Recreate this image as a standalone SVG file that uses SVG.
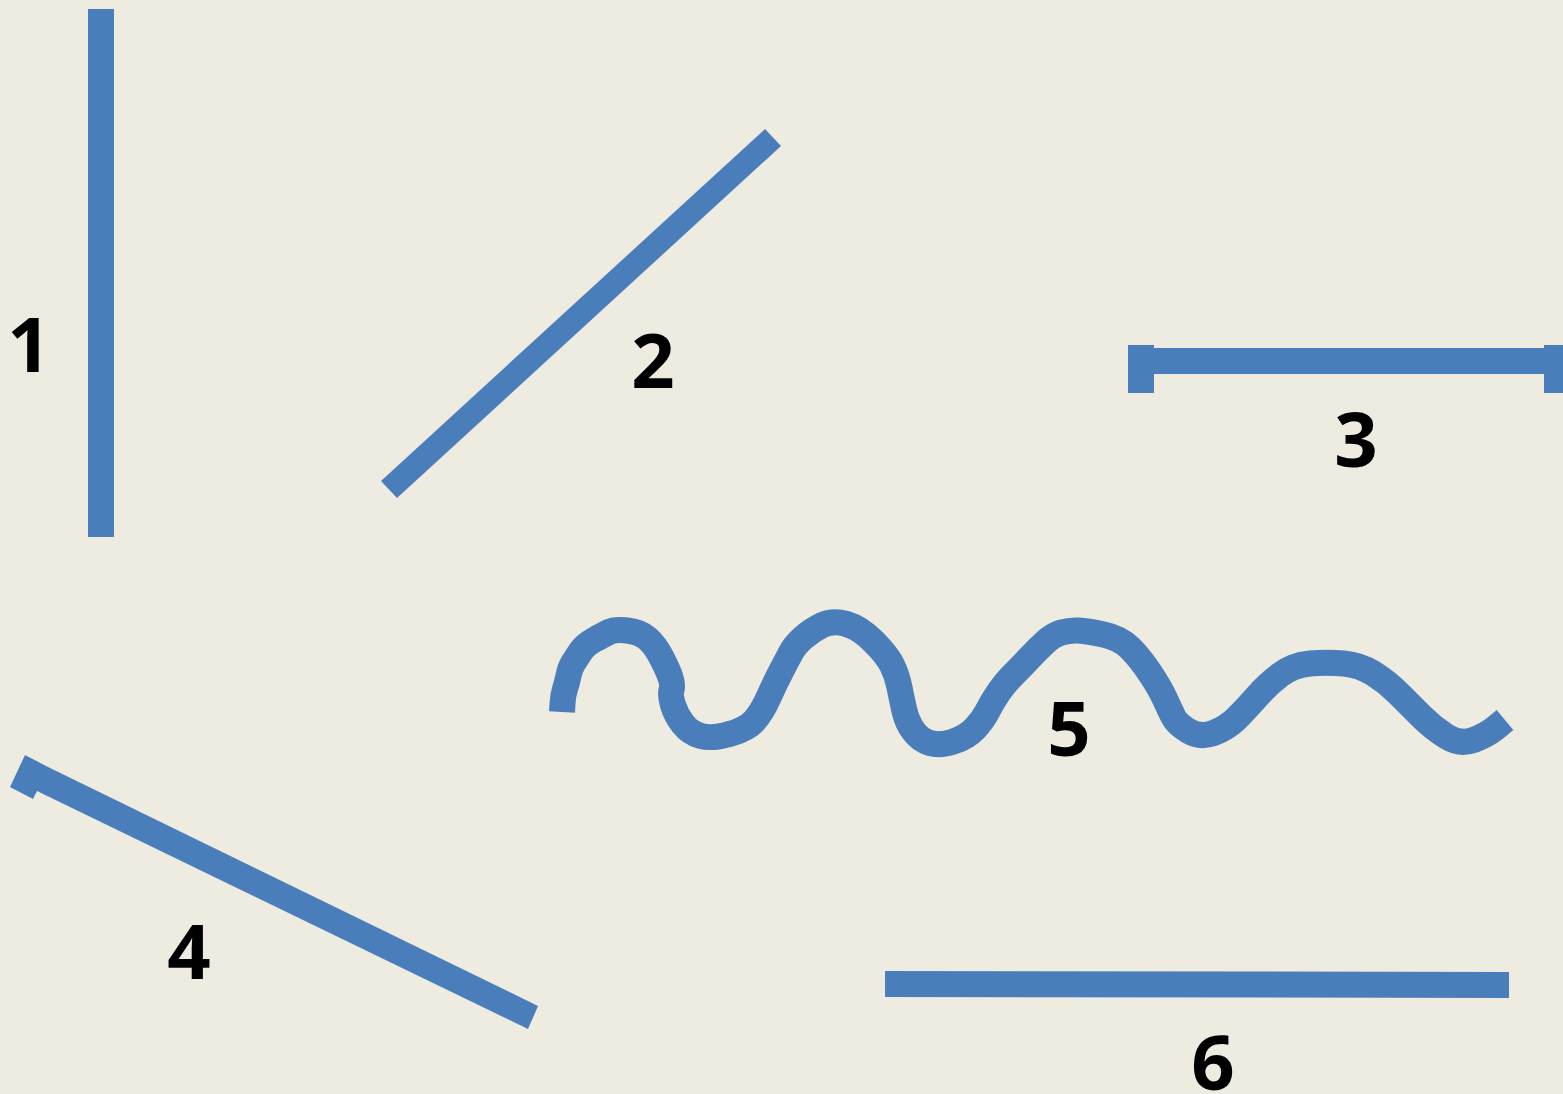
<svg xmlns="http://www.w3.org/2000/svg" width="1563" height="1094" viewBox="0 0 1563 1094">
<style>
.shape{fill:#4A7EBB}
.wave{fill:none;stroke:#4A7EBB;stroke-width:26;stroke-linejoin:round;stroke-linecap:butt}
.lbl{font-family:"Open Sans","Liberation Sans",sans-serif;font-weight:bold;font-size:76px;fill:#000;text-anchor:middle}
</style>
<rect width="1563" height="1094" fill="#EEEBE0"/>
<g id="line1">
<rect class="shape" x="88" y="9" width="26" height="528"/>
<text class="lbl" x="29" y="372">1</text>
</g>
<g id="line2">
<polygon class="shape" points="381,481 397,498 781,146 765,129"/>
<text class="lbl" x="653" y="388">2</text>
</g>
<g id="line3">
<rect class="shape" x="1141" y="348" width="422" height="26"/>
<rect class="shape" x="1128" y="345" width="26" height="48"/>
<rect class="shape" x="1544" y="345" width="19" height="48"/>
<text class="lbl" x="1356" y="467">3</text>
</g>
<g id="line4">
<polygon class="shape" points="25,755 48,767 538,1006 528,1029 37,791 33,799 10,787"/>
<text class="lbl" x="189" y="979">4</text>
</g>
<g id="line5">
<path class="wave" d="M562,712 L562.5,703.5 Q563,695 565,689 Q567,683 568.5,675.5 Q570,668 573.5,662.5 Q577,657 581,651 Q585,645 594,640 Q603,635 609,632 Q615,629 627.5,630.5 Q640,632 647.5,638.5 Q655,645 661.5,657.5 Q668,670 670.5,677.5 Q673,685 671.5,690 Q670,695 673,705 Q676,715 683,724 Q690,733 701,736 Q712,739 729.5,734 Q747,729 754.5,720.5 Q762,712 768.5,697.5 Q775,683 781,671.5 Q787,660 791,652.5 Q795,645 803.5,637.5 Q812,630 822.5,625 Q833,620 846.5,624 Q860,628 873.5,641.5 Q887,655 892,665 Q897,675 899.5,687.5 Q902,700 904.5,711 Q907,722 913.5,731 Q920,740 930,743 Q940,746 953.5,741.5 Q967,737 975,728.5 Q983,720 987.5,711 Q992,702 998.5,692.5 Q1005,683 1012.5,675.5 Q1020,668 1028.5,659 Q1037,650 1045,642.5 Q1053,635 1061.5,632.5 Q1070,630 1078.5,630.5 Q1087,631 1103.5,634.5 Q1120,638 1130,648 Q1140,658 1150,673 Q1160,688 1165,699 Q1170,710 1173.5,717 Q1177,724 1188.5,731 Q1200,738 1213.5,733 Q1227,728 1237,718 Q1247,708 1257,696.5 Q1267,685 1280,675 Q1293,665 1310,663.5 Q1327,662 1343.5,663.5 Q1360,665 1373.5,673.5 Q1387,682 1398.5,693.5 Q1410,705 1421.5,716.5 Q1433,728 1446.5,736.5 Q1460,745 1473.5,740 Q1487,735 1496,727.5 L1505,720"/>
<text class="lbl" x="1069" y="756">5</text>
</g>
<g id="line6">
<polygon class="shape" points="885,971 1509,972 1509,998 885,997"/>
<text class="lbl" x="1213" y="1090">6</text>
</g>
<g id="connectors"></g>
</svg>
